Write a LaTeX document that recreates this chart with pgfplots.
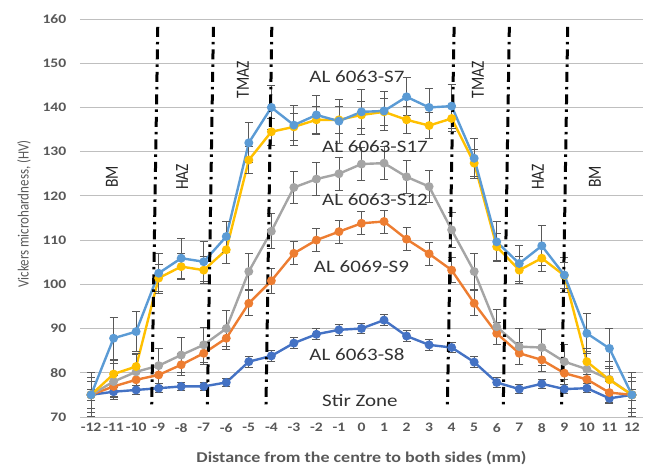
\documentclass[border=0pt]{standalone}
\usepackage{pgfplots}
\pgfplotsset{compat=1.18}
\usepackage{pgfplotstable}
\usepackage{fontspec}
\setmainfont{Carlito}[FakeStretch=1.2]
\newfontfamily\plainfont{Carlito}
\definecolor{cS7}{HTML}{5B9BD5}
\definecolor{cS17}{HTML}{FFC000}
\definecolor{cS12}{HTML}{A5A5A5}
\definecolor{cS9}{HTML}{ED7D31}
\definecolor{cS8}{HTML}{4472C4}
\definecolor{grid}{HTML}{D9D9D9}
\definecolor{txt}{HTML}{595959}
\definecolor{ebar}{HTML}{595959}

\pgfplotstableread{
x y e
-12 75 5
-11 87.8 4.7
-10 89.3 4.5
-9 102.5 4.5
-8 105.9 4.5
-7 105.1 4.5
-6 110.8 3.5
-5 132 4.5
-4 140 5
-3 136 4.5
-2 138.3 4.5
-1 136.9 5
0 139 5
1 139.2 4.5
2 142.4 4.3
3 140 4.3
4 140.3 5
5 128.5 4.5
6 109.6 4.5
7 104.7 4
8 108.7 4.5
9 102.1 4
10 88.9 4.5
11 85.5 4.5
12 75 5
}\tSseven
\pgfplotstableread{
x y e
-12 75 4
-11 79.7 3
-10 81.4 3
-9 101.4 3
-8 104 3
-7 103.2 3
-6 107.8 3
-5 128.1 3
-4 134.5 3
-3 135.6 3
-2 137.2 3
-1 137.2 3
0 138.3 3
1 139 3
2 137.2 3
3 135.9 3
4 137.5 3
5 127.4 3
6 108.5 3
7 103.2 3
8 105.9 3
9 102 3
10 82.5 3
11 78.4 3
12 75 4
}\tSseventeen
\pgfplotstableread{
x y e
-12 75 4
-11 78 4
-10 80.2 4
-9 81.6 4
-8 84 4
-7 86.3 4
-6 90 4
-5 102.9 4
-4 112 4
-3 121.9 3.7
-2 123.8 3.7
-1 125 3.7
0 127.2 3.7
1 127.4 3.7
2 124.3 3.7
3 122.1 3.7
4 112.3 4
5 102.9 4
6 90.4 4
7 85.9 4
8 85.7 4
9 82.5 4
10 80.8 4
11 78.5 4
12 75 4
}\tStwelve
\pgfplotstableread{
x y e
-12 75 3
-11 76.9 2.5
-10 78.4 2.5
-9 79.5 2.5
-8 81.8 2.5
-7 84.4 2.5
-6 87.8 2.5
-5 95.7 2.8
-4 100.8 2.8
-3 107 2.6
-2 110 2.6
-1 111.9 2.6
0 113.8 2.6
1 114.2 2.6
2 110.2 2.6
3 106.9 2.6
4 103.2 2.8
5 95.7 2.8
6 88.9 2.5
7 84.4 2.5
8 82.9 2.5
9 79.9 2.5
10 78.5 2.5
11 75.5 2.5
12 75 3
}\tSnine
\pgfplotstableread{
x y e
-12 75 1.2
-11 75.7 1
-10 76.1 1
-9 76.5 1
-8 76.9 1
-7 76.9 1
-6 77.8 1
-5 82.5 1.2
-4 83.8 1.2
-3 86.7 1.2
-2 88.7 1.2
-1 89.7 1.2
0 90 1.2
1 91.9 1.2
2 88.3 1.2
3 86.3 1.2
4 85.7 1.2
5 82.4 1.2
6 77.8 1.2
7 76.3 1
8 77.5 1
9 76.3 1
10 76.5 1
11 74.2 1
12 75 1.2
}\tSeight

\begin{document}
\begin{tikzpicture}
\begin{axis}[
  x=22.54pt, y=4.422pt,
  xmin=-12.5, xmax=12.5, ymin=70, ymax=160,
  axis line style={draw=none},
  clip=false,
  xtick={-12,...,12},
  ytick={70,80,...,160},
  xtick style={draw=none}, ytick style={draw=none},
  xmajorgrids=false, ymajorgrids,
  major grid style={grid, line width=0.8pt},
  /pgf/number format/assume math mode=true,
  tick label style={font=\fontsize{13}{14}\selectfont\bfseries, text=txt},
  yticklabel style={xshift=-10pt},
  xticklabel style={yshift=-3pt, inner xsep=0pt},
  every axis plot/.append style={line width=2.4pt, mark=*, mark size=3.2pt},
]
\pgfplotsset{every axis plot/.append style={
  error bars/error bar style={ebar, line width=0.9pt, solid},
  error bars/error mark=-,
  error bars/error mark options={ebar, line width=0.9pt, rotate=90, mark size=4pt}}}
\addplot[cS8, mark options={fill=cS8, draw=cS8}, error bars/.cd, y dir=both, y explicit] table[x=x, y=y, y error=e] {\tSeight};
\addplot[cS9, mark options={fill=cS9, draw=cS9}, error bars/.cd, y dir=both, y explicit] table[x=x, y=y, y error=e] {\tSnine};
\addplot[cS12, mark options={fill=cS12, draw=cS12}, error bars/.cd, y dir=both, y explicit] table[x=x, y=y, y error=e] {\tStwelve};
\addplot[cS17, mark options={fill=cS17, draw=cS17}, error bars/.cd, y dir=both, y explicit] table[x=x, y=y, y error=e] {\tSseventeen};
\addplot[cS7, mark options={fill=cS7, draw=cS7}, error bars/.cd, y dir=both, y explicit] table[x=x, y=y, y error=e] {\tSseven};

% zone boundaries
\begin{scope}[black, line width=3pt, dash pattern=on 10pt off 5pt on 2.5pt off 5pt]
\draw (axis cs:-9.04,158.2) -- (axis cs:-9.31,72);
\draw (axis cs:-6.57,158.2) -- (axis cs:-6.84,72);
\draw (axis cs:-3.98,158.2) -- (axis cs:-4.24,72);
\draw (axis cs:4.11,158.2) -- (axis cs:3.81,72);
\draw (axis cs:6.56,158.2) -- (axis cs:6.29,72);
\draw (axis cs:9.15,158.2) -- (axis cs:8.88,72);
\end{scope}

% zone labels
\begin{scope}[every node/.style={rotate=90, text=black!85, font=\plainfont\fontsize{15.5}{16}\selectfont}]
\node at (axis cs:-11.07,124.3) {\scalebox{1}[1.2]{BM}};
\node at (axis cs:-7.96,124.3) {\scalebox{1}[1.2]{HAZ}};
\node at (axis cs:-5.26,146.2) {\scalebox{1}[1.2]{TMAZ}};
\node at (axis cs:5.17,146.2) {\scalebox{1}[1.2]{TMAZ}};
\node at (axis cs:7.83,124.3) {\scalebox{1}[1.2]{HAZ}};
\node at (axis cs:10.36,124.3) {\scalebox{1}[1.2]{BM}};
\end{scope}

% series labels
\begin{scope}[every node/.style={text=black!80, font=\fontsize{17.5}{18}\selectfont}]
\node at (axis cs:-0.2,146.9) {AL 6063-S7};
\node at (axis cs:0.6,131.1) {AL 6063-S17};
\node at (axis cs:0.6,119.1) {AL 6063-S12};
\node at (axis cs:0,104) {AL 6069-S9};
\node at (axis cs:-0.2,84) {AL 6063-S8};
\node at (axis cs:-0.07,73.8) {Stir Zone};
\end{scope}

% axis titles
\node[rotate=90, text=txt, font=\plainfont\fontsize{13}{14}\selectfont] at (axis cs:-14.97,115.9) {\scalebox{1}[1.2]{Vickers microhardness, (HV)}};
\node[text=txt, font=\fontsize{15}{16}\selectfont\bfseries] at (axis cs:0,60.7) {Distance from the centre to both sides (mm)};

% bounding box matching the reference frame
\path (axis cs:-16.04,58.92) rectangle (axis cs:12.89,164.3);
\end{axis}
\end{tikzpicture}
\end{document}
